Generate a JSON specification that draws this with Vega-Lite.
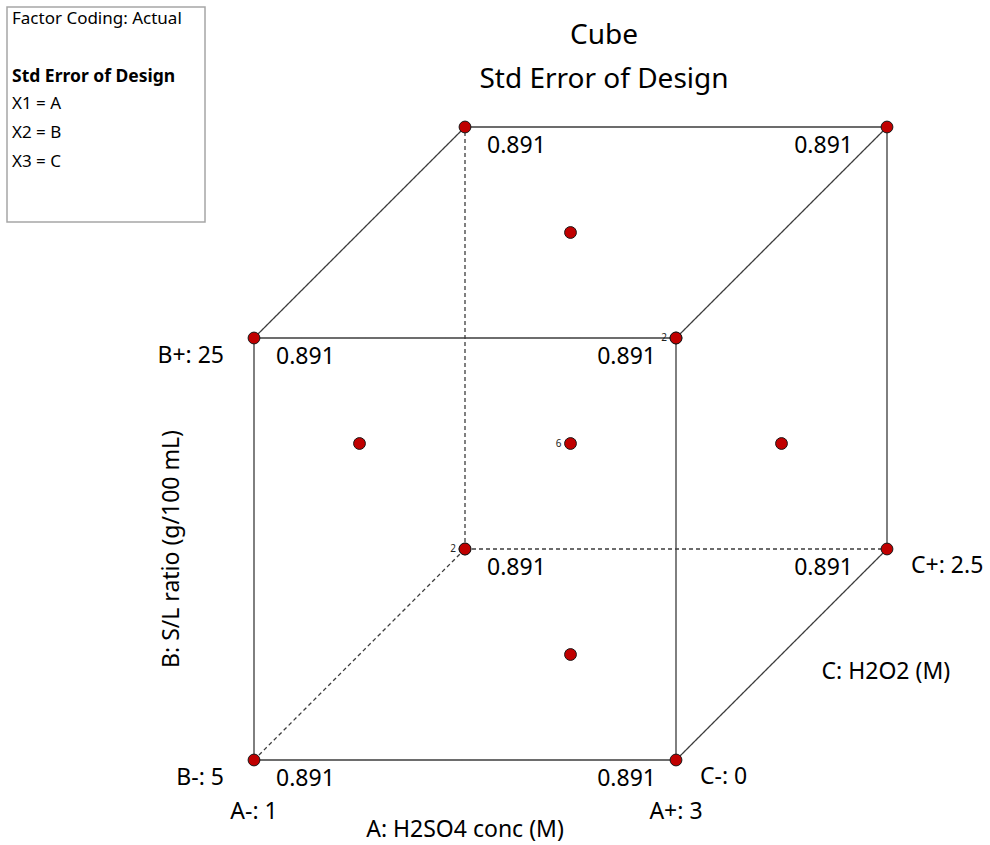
{
  "$schema": "https://vega.github.io/schema/vega-lite/v6.json",
  "width": 990,
  "height": 845,
  "autosize": {"type": "none"},
  "padding": 0,
  "background": "white",
  "config": {"view": {"stroke": null}, "font": "Noto Sans"},
  "title": {
    "text": "Cube",
    "subtitle": "Std Error of Design",
    "anchor": "middle",
    "frame": "group",
    "offset": -94,
    "dx": 109,
    "fontSize": 28,
    "fontWeight": "normal",
    "font": "Noto Sans",
    "color": "#000000",
    "subtitleFontSize": 28,
    "subtitleFont": "Noto Sans",
    "subtitleColor": "#000000",
    "subtitlePadding": 16
  },
  "datasets": {
    "runs": [
      {"A": 1, "B": 5, "C": 0, "u": 0, "v": 0, "kind": "corner", "reps": 1, "se": 0.891},
      {"A": 3, "B": 5, "C": 0, "u": 2, "v": 0, "kind": "corner", "reps": 1, "se": 0.891},
      {"A": 1, "B": 25, "C": 0, "u": 0, "v": 2, "kind": "corner", "reps": 1, "se": 0.891},
      {"A": 3, "B": 25, "C": 0, "u": 2, "v": 2, "kind": "corner", "reps": 1, "se": 0.891},
      {"A": 1, "B": 5, "C": 2.5, "u": 1, "v": 1, "kind": "corner", "reps": 1, "se": 0.891},
      {"A": 3, "B": 5, "C": 2.5, "u": 3, "v": 1, "kind": "corner", "reps": 1, "se": 0.891},
      {"A": 1, "B": 25, "C": 2.5, "u": 1, "v": 3, "kind": "corner", "reps": 1, "se": 0.891},
      {"A": 3, "B": 25, "C": 2.5, "u": 3, "v": 3, "kind": "corner", "reps": 1, "se": 0.891},
      {"A": 1, "B": 15, "C": 1.25, "u": 0.5, "v": 1.5, "kind": "face", "reps": 1},
      {"A": 3, "B": 15, "C": 1.25, "u": 2.5, "v": 1.5, "kind": "face", "reps": 1},
      {"A": 2, "B": 5, "C": 1.25, "u": 1.5, "v": 0.5, "kind": "face", "reps": 1},
      {"A": 2, "B": 25, "C": 1.25, "u": 1.5, "v": 2.5, "kind": "face", "reps": 1},
      {"A": 2, "B": 15, "C": 0, "u": 1, "v": 1, "kind": "face", "reps": 1},
      {"A": 2, "B": 15, "C": 2.5, "u": 2, "v": 2, "kind": "face", "reps": 1},
      {"A": 2, "B": 15, "C": 1.25, "u": 1.5, "v": 1.5, "kind": "center", "reps": 6}
    ],
    "edges": [
      {"u": 0, "v": 0, "u2": 2, "v2": 0, "edge": "visible"},
      {"u": 0, "v": 2, "u2": 2, "v2": 2, "edge": "visible"},
      {"u": 0, "v": 0, "u2": 0, "v2": 2, "edge": "visible"},
      {"u": 2, "v": 0, "u2": 2, "v2": 2, "edge": "visible"},
      {"u": 1, "v": 3, "u2": 3, "v2": 3, "edge": "visible"},
      {"u": 3, "v": 1, "u2": 3, "v2": 3, "edge": "visible"},
      {"u": 0, "v": 2, "u2": 1, "v2": 3, "edge": "visible"},
      {"u": 2, "v": 2, "u2": 3, "v2": 3, "edge": "visible"},
      {"u": 2, "v": 0, "u2": 3, "v2": 1, "edge": "visible"},
      {"u": 1, "v": 1, "u2": 1, "v2": 3, "edge": "hidden"},
      {"u": 1, "v": 1, "u2": 3, "v2": 1, "edge": "hidden"},
      {"u": 0, "v": 0, "u2": 1, "v2": 1, "edge": "hidden"}
    ],
    "aLevels": [
      {"label": "A-: 1", "u": 0, "v": 0},
      {"label": "A+: 3", "u": 2, "v": 0}
    ],
    "bLevels": [
      {"label": "B-: 5", "u": 0, "v": 0},
      {"label": "B+: 25", "u": 0, "v": 2}
    ],
    "cLevels": [
      {"label": "C-: 0", "u": 2, "v": 0},
      {"label": "C+: 2.5", "u": 3, "v": 1}
    ],
    "factorA": [{"label": "A: H2SO4 conc (M)", "u": 1, "v": 0}],
    "factorB": [{"label": "B: S/L ratio (g/100 mL)", "u": 0, "v": 1}],
    "factorC": [{"label": "C: H2O2 (M)", "u": 2.5, "v": 0.5}],
    "infoBox": [{"u": -1.1706, "u2": -0.2322, "v": 3.5687, "v2": 2.5498}],
    "infoText": [
      {"line": "Factor Coding: Actual", "u": -1.1469, "v": 3.5118},
      {"line": "X1 = A", "u": -1.1469, "v": 3.109},
      {"line": "X2 = B", "u": -1.1469, "v": 2.9716},
      {"line": "X3 = C", "u": -1.1469, "v": 2.8341}
    ],
    "infoHead": [{"line": "Std Error of Design", "u": -1.1469, "v": 3.237}]
  },
  "encoding": {
    "x": {"field": "u", "type": "quantitative", "scale": {"domain": [-1.20379, 3.48815], "nice": false, "zero": false}, "axis": null},
    "y": {"field": "v", "type": "quantitative", "scale": {"domain": [-0.40284, 3.6019], "nice": false, "zero": false}, "axis": null}
  },
  "layer": [
    {
      "data": {"name": "infoBox"},
      "mark": {"type": "rect", "fill": "white", "stroke": "#a6a6a6", "strokeWidth": 1.5},
      "encoding": {"x2": {"field": "u2"}, "y2": {"field": "v2"}}
    },
    {
      "data": {"name": "infoText"},
      "mark": {"type": "text", "align": "left", "baseline": "middle", "fontSize": 17, "color": "#000000"},
      "encoding": {"text": {"field": "line"}}
    },
    {
      "data": {"name": "infoHead"},
      "mark": {"type": "text", "align": "left", "baseline": "middle", "fontSize": 17.5, "fontWeight": "bold", "color": "#000000"},
      "encoding": {"text": {"field": "line"}}
    },
    {
      "data": {"name": "edges"},
      "mark": {"type": "rule", "color": "#3c3c3c", "strokeWidth": 1.3},
      "encoding": {
        "x2": {"field": "u2"},
        "y2": {"field": "v2"},
        "strokeDash": {"field": "edge", "type": "nominal", "scale": {"domain": ["visible", "hidden"], "range": [[1, 0], [4, 3]]}, "legend": null}
      }
    },
    {
      "data": {"name": "runs"},
      "mark": {"type": "circle", "size": 140, "fill": "#c00000", "stroke": "#1a1a1a", "strokeWidth": 1, "opacity": 1, "fillOpacity": 1}
    },
    {
      "data": {"name": "runs"},
      "transform": [
        {"aggregate": [{"op": "sum", "field": "reps", "as": "n"}], "groupby": ["u", "v"]},
        {"filter": "datum.n > 1"}
      ],
      "mark": {"type": "text", "align": "right", "baseline": "middle", "dx": -9, "fontSize": 10, "color": "#222222"},
      "encoding": {"text": {"field": "n", "type": "quantitative"}}
    },
    {
      "data": {"name": "runs"},
      "transform": [{"filter": "datum.kind == 'corner' && datum.A == 1"}],
      "mark": {"type": "text", "align": "left", "baseline": "middle", "dx": 22, "dy": 19, "fontSize": 23, "color": "#000000"},
      "encoding": {"text": {"field": "se", "type": "quantitative", "format": ".3f"}}
    },
    {
      "data": {"name": "runs"},
      "transform": [{"filter": "datum.kind == 'corner' && datum.A == 3 && datum.C == 0"}],
      "mark": {"type": "text", "align": "right", "baseline": "middle", "dx": -20, "dy": 19, "fontSize": 23, "color": "#000000"},
      "encoding": {"text": {"field": "se", "type": "quantitative", "format": ".3f"}}
    },
    {
      "data": {"name": "runs"},
      "transform": [{"filter": "datum.kind == 'corner' && datum.A == 3 && datum.C == 2.5"}],
      "mark": {"type": "text", "align": "right", "baseline": "middle", "dx": -34, "dy": 19, "fontSize": 23, "color": "#000000"},
      "encoding": {"text": {"field": "se", "type": "quantitative", "format": ".3f"}}
    },
    {
      "data": {"name": "aLevels"},
      "mark": {"type": "text", "align": "center", "baseline": "middle", "dy": 52, "fontSize": 23, "color": "#000000"},
      "encoding": {"text": {"field": "label"}}
    },
    {
      "data": {"name": "bLevels"},
      "mark": {"type": "text", "align": "right", "baseline": "middle", "dx": -30, "dy": 18, "fontSize": 23, "color": "#000000"},
      "encoding": {"text": {"field": "label"}}
    },
    {
      "data": {"name": "cLevels"},
      "mark": {"type": "text", "align": "left", "baseline": "middle", "dx": 24, "dy": 17, "fontSize": 23, "color": "#000000"},
      "encoding": {"text": {"field": "label"}}
    },
    {
      "data": {"name": "factorA"},
      "mark": {"type": "text", "align": "center", "baseline": "middle", "dx": 0, "dy": 70, "fontSize": 23, "color": "#000000"},
      "encoding": {"text": {"field": "label"}}
    },
    {
      "data": {"name": "factorB"},
      "mark": {"type": "text", "align": "center", "baseline": "middle", "dx": 0, "dy": -82, "angle": 270, "fontSize": 23, "color": "#000000"},
      "encoding": {"text": {"field": "label"}}
    },
    {
      "data": {"name": "factorC"},
      "mark": {"type": "text", "align": "left", "baseline": "middle", "dx": 40, "dy": 17, "fontSize": 23, "color": "#000000"},
      "encoding": {"text": {"field": "label"}}
    }
  ]
}
